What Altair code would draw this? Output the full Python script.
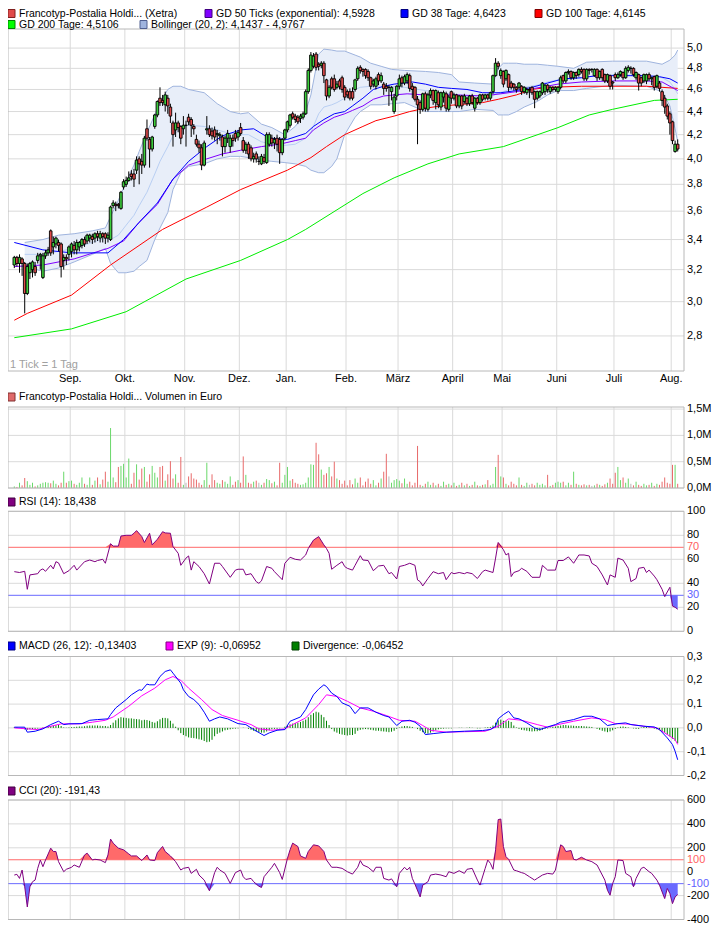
import altair as alt
import pandas as pd
import numpy as np

# ---------------- data ----------------
MONTH_NAMES = ["Sep.", "Okt.", "Nov.", "Dez.", "Jan.", "Feb.", "März", "April", "Mai", "Juni", "Juli", "Aug."]
MONTH_FIRST_DAY = [22, 43, 66, 87, 105, 128, 148, 169, 188, 209, 231, 253]

OPEN = [3.23,3.28,3.24,3.27,3.24,3.05,3.18,3.20,3.22,3.26, 3.29,3.15,3.29,3.31,3.46,3.35,3.37,3.38,3.37,3.26,
        3.28,3.30,3.32,3.36,3.33,3.35,3.36,3.40,3.39,3.41, 3.42,3.41,3.44,3.41,3.44,3.44,3.41,3.40,3.64,3.65,
        3.65,3.62,3.78,3.80,3.83,3.88,3.88,3.91,4.00,3.98, 3.95,4.25,4.16,4.08,4.27,4.37,4.52,4.50,4.46,4.52,
        4.44,4.30,4.24,4.30,4.27,4.25,4.28,4.35,4.33,4.27, 4.16,4.12,4.09,3.95,4.24,4.25,4.23,4.24,4.20,4.19,
        4.18,4.10,4.17,4.10,4.17,4.21,4.18,4.26,4.15,4.07, 4.12,4.09,4.00,4.04,3.98,3.96,4.01,3.97,4.12,4.17,
        4.13,4.17,4.16,4.05,4.17,4.24,4.28,4.38,4.36,4.35, 4.34,4.35,4.38,4.58,4.78,4.82,4.94,4.84,4.83,4.85,
        4.69,4.54,4.70,4.70,4.62,4.68,4.71,4.62,4.58,4.58, 4.58,4.60,4.70,4.81,4.79,4.79,4.77,4.71,4.65,4.63,
        4.74,4.68,4.65,4.63,4.62,4.58,4.40,4.54,4.63,4.71, 4.66,4.68,4.73,4.63,4.62,4.51,4.48,4.42,4.56,4.42,
        4.55,4.59,4.48,4.57,4.44,4.53,4.56,4.42,4.58,4.52, 4.55,4.45,4.54,4.49,4.52,4.47,4.54,4.43,4.52,4.48,
        4.55,4.52,4.55,4.52,4.58,4.73,4.85,4.73,4.77,4.70, 4.74,4.66,4.65,4.62,4.62,4.63,4.58,4.57,4.60,4.62,
        4.58,4.52,4.54,4.57,4.58,4.64,4.58,4.62,4.60,4.58, 4.62,4.73,4.68,4.76,4.77,4.71,4.76,4.74,4.79,4.79,
        4.70,4.79,4.79,4.73,4.79,4.71,4.79,4.74,4.68,4.73, 4.67,4.74,4.71,4.74,4.76,4.71,4.78,4.80,4.80,4.71,
        4.74,4.71,4.68,4.68,4.74,4.70,4.72,4.63,4.66,4.58, 4.52,4.45,4.38,4.31,4.06,4.12]
CLOSE = [3.28,3.24,3.28,3.24,3.05,3.22,3.24,3.25,3.18,3.29, 3.30,3.29,3.31,3.33,3.31,3.38,3.41,3.36,3.22,3.28,
         3.27,3.35,3.37,3.33,3.38,3.38,3.40,3.37,3.43,3.43, 3.40,3.44,3.42,3.44,3.42,3.41,3.43,3.63,3.66,3.64,
         3.64,3.74,3.82,3.83,3.85,3.86,3.84,3.99,3.96,3.95, 4.17,4.17,4.08,4.18,4.37,4.49,4.48,4.48,4.55,4.45,
         4.36,4.20,4.30,4.26,4.17,4.28,4.28,4.31,4.28,4.25, 4.12,4.09,3.95,4.13,4.25,4.20,4.19,4.18,4.21,4.20,
         4.10,4.17,4.21,4.17,4.15,4.17,4.22,4.21,4.07,4.12, 4.04,4.00,4.02,4.00,3.98,4.02,3.98,4.20,4.20,4.13,
         4.16,4.12,4.05,4.16,4.24,4.31,4.37,4.35,4.33,4.31, 4.36,4.38,4.58,4.78,4.93,4.92,4.81,4.82,4.85,4.73,
         4.54,4.62,4.62,4.60,4.65,4.63,4.60,4.53,4.55,4.52, 4.52,4.69,4.80,4.78,4.77,4.73,4.71,4.63,4.68,4.70,
         4.68,4.73,4.61,4.61,4.62,4.62,4.53,4.63,4.70,4.66, 4.72,4.74,4.61,4.60,4.51,4.46,4.42,4.56,4.43,4.55,
         4.59,4.50,4.59,4.46,4.57,4.57,4.43,4.53,4.52,4.55, 4.45,4.54,4.45,4.54,4.47,4.54,4.48,4.52,4.48,4.55,
         4.51,4.55,4.52,4.57,4.73,4.85,4.82,4.78,4.65,4.78, 4.62,4.62,4.62,4.60,4.66,4.58,4.62,4.60,4.60,4.57,
         4.51,4.58,4.58,4.66,4.64,4.60,4.62,4.60,4.62,4.62, 4.71,4.68,4.76,4.77,4.71,4.76,4.73,4.79,4.77,4.70,
         4.79,4.78,4.79,4.79,4.71,4.77,4.71,4.68,4.74,4.63, 4.66,4.71,4.74,4.77,4.71,4.80,4.81,4.80,4.74,4.76,
         4.66,4.66,4.74,4.74,4.70,4.71,4.62,4.73,4.61,4.50, 4.44,4.36,4.30,4.15,4.12,4.08]
HIGH = [3.29,3.29,3.30,3.28,3.25,3.24,3.25,3.26,3.25,3.31, 3.31,3.31,3.33,3.35,3.47,3.42,3.42,3.40,3.38,3.30,
        3.30,3.36,3.38,3.39,3.40,3.39,3.41,3.42,3.44,3.44, 3.44,3.45,3.46,3.46,3.45,3.45,3.45,3.64,3.68,3.67,
        3.66,3.75,3.84,3.86,3.90,3.91,3.92,4.02,4.02,4.04, 4.19,4.33,4.18,4.19,4.38,4.50,4.62,4.55,4.58,4.55,
        4.47,4.32,4.39,4.32,4.28,4.36,4.32,4.38,4.35,4.29, 4.20,4.15,4.12,4.15,4.36,4.28,4.26,4.27,4.24,4.22,
        4.20,4.19,4.24,4.20,4.20,4.24,4.24,4.30,4.18,4.14, 4.14,4.11,4.05,4.06,4.02,4.04,4.04,4.22,4.22,4.20,
        4.18,4.20,4.18,4.17,4.25,4.32,4.38,4.40,4.38,4.37, 4.38,4.40,4.60,4.80,4.96,4.95,4.96,4.86,4.87,4.87,
        4.70,4.64,4.72,4.74,4.68,4.70,4.73,4.64,4.60,4.61, 4.62,4.70,4.82,4.83,4.80,4.80,4.79,4.72,4.70,4.72,
        4.76,4.76,4.67,4.66,4.64,4.63,4.56,4.64,4.74,4.73, 4.74,4.76,4.75,4.66,4.63,4.54,4.50,4.57,4.58,4.57,
        4.61,4.60,4.60,4.59,4.58,4.59,4.58,4.55,4.59,4.57, 4.56,4.55,4.55,4.56,4.53,4.55,4.56,4.53,4.53,4.56,
        4.56,4.56,4.56,4.58,4.74,4.90,4.87,4.80,4.78,4.79, 4.75,4.68,4.66,4.63,4.67,4.64,4.63,4.62,4.62,4.63,
        4.59,4.59,4.59,4.67,4.65,4.65,4.63,4.63,4.63,4.63, 4.73,4.74,4.77,4.79,4.78,4.77,4.77,4.80,4.81,4.80,
        4.80,4.80,4.80,4.80,4.80,4.78,4.80,4.75,4.75,4.74, 4.68,4.76,4.76,4.78,4.77,4.82,4.83,4.82,4.81,4.77,
        4.75,4.72,4.75,4.75,4.76,4.72,4.73,4.74,4.68,4.60, 4.55,4.47,4.40,4.32,4.15,4.16]
LOW = [3.21,3.22,3.18,3.16,2.93,3.04,3.14,3.15,3.16,3.24, 3.20,3.14,3.27,3.29,3.29,3.30,3.34,3.32,3.15,3.20,
       3.23,3.26,3.28,3.30,3.30,3.32,3.34,3.35,3.37,3.38, 3.37,3.38,3.39,3.38,3.38,3.37,3.38,3.39,3.62,3.60,
       3.62,3.61,3.76,3.78,3.82,3.83,3.78,3.88,3.80,3.88, 3.93,4.15,3.93,4.06,4.25,4.35,4.45,4.45,4.40,4.38,
       4.30,4.10,4.18,4.22,4.12,4.20,4.10,4.28,4.18,4.20, 4.10,4.05,3.91,3.94,4.20,4.18,4.16,4.15,4.12,4.15,
       4.02,4.05,4.13,4.05,4.10,4.14,4.15,4.19,4.05,4.04, 4.00,3.98,3.97,3.97,3.95,3.95,3.96,3.96,4.10,4.10,
       4.08,4.06,3.96,4.03,4.15,4.22,4.26,4.33,4.30,4.29, 4.30,4.33,4.37,4.56,4.76,4.80,4.78,4.78,4.80,4.66,
       4.50,4.52,4.60,4.58,4.60,4.60,4.57,4.50,4.52,4.50, 4.50,4.58,4.68,4.75,4.72,4.70,4.68,4.60,4.62,4.60,
       4.64,4.66,4.55,4.58,4.45,4.50,4.38,4.50,4.60,4.62, 4.64,4.65,4.58,4.52,4.49,4.12,4.38,4.40,4.40,4.40,
       4.52,4.46,4.42,4.43,4.41,4.48,4.40,4.40,4.47,4.50, 4.43,4.43,4.42,4.47,4.45,4.45,4.46,4.40,4.46,4.46,
       4.49,4.50,4.50,4.50,4.56,4.72,4.79,4.70,4.62,4.68, 4.58,4.60,4.59,4.57,4.60,4.55,4.56,4.55,4.52,4.55,
       4.43,4.50,4.52,4.55,4.55,4.57,4.56,4.58,4.58,4.56, 4.60,4.66,4.66,4.74,4.69,4.69,4.70,4.72,4.75,4.68,
       4.68,4.74,4.76,4.72,4.68,4.69,4.68,4.66,4.66,4.60, 4.60,4.68,4.70,4.72,4.69,4.70,4.76,4.75,4.72,4.69,
       4.59,4.63,4.66,4.65,4.68,4.64,4.59,4.61,4.58,4.45, 4.38,4.33,4.20,4.12,4.05,4.06]

VOLUME_M = [0.03,0.02,0.10,0.05,0.19,0.13,0.06,0.10,0.03,0.05, 0.08,0.10,0.11,0.10,0.09,0.14,0.08,0.05,0.10,0.31,
            0.10,0.13,0.14,0.08,0.06,0.10,0.20,0.08,0.06,0.20, 0.06,0.14,0.20,0.07,0.16,0.31,0.12,1.14,0.20,0.11,
            0.40,0.42,0.46,0.20,0.56,0.08,0.29,0.45,0.16,0.37, 0.40,0.12,0.26,0.42,0.29,0.20,0.40,0.42,0.14,0.26,
            0.51,0.18,0.26,0.10,0.59,0.06,0.10,0.22,0.28,0.18, 0.16,0.10,0.06,0.15,0.48,0.06,0.26,0.15,0.10,0.08,
            0.15,0.12,0.08,0.22,0.06,0.12,0.15,0.10,0.60,0.25, 0.10,0.08,0.12,0.14,0.10,0.06,0.10,0.17,0.15,0.09,
            0.12,0.05,0.48,0.10,0.25,0.40,0.14,0.17,0.10,0.08, 0.06,0.07,0.10,0.20,0.45,0.44,0.86,0.64,0.35,0.25,
            0.28,0.40,0.22,0.50,0.18,0.15,0.08,0.14,0.05,0.15, 0.07,0.18,0.10,0.20,0.05,0.12,0.18,0.08,0.15,0.05,
            0.10,0.18,0.31,0.65,0.22,0.10,0.15,0.17,0.14,0.09, 0.18,0.08,0.12,0.05,0.10,0.80,0.06,0.04,0.08,0.12,
            0.06,0.10,0.05,0.08,0.04,0.12,0.06,0.08,0.05,0.10, 0.04,0.06,0.10,0.05,0.08,0.04,0.06,0.12,0.05,0.04,
            0.06,0.07,0.15,0.05,0.08,0.40,0.63,0.22,0.20,0.08, 0.05,0.12,0.08,0.05,0.20,0.06,0.04,0.10,0.06,0.08,
            0.05,0.10,0.06,0.08,0.05,0.25,0.04,0.06,0.10,0.12, 0.10,0.12,0.05,0.10,0.06,0.31,0.08,0.06,0.05,0.07,
            0.05,0.06,0.04,0.05,0.08,0.06,0.04,0.07,0.10,0.18, 0.08,0.29,0.40,0.15,0.20,0.10,0.18,0.08,0.05,0.12,
            0.06,0.04,0.08,0.05,0.06,0.10,0.04,0.08,0.06,0.12, 0.20,0.10,0.08,0.44,0.44,0.08]

DIVERGENCE = [0.003,0.002,0.0,-0.004,-0.006,-0.008,-0.006,-0.005,-0.004,-0.003,
              0.0,0.002,0.004,0.006,0.008,0.01,0.011,0.012,0.008,0.002,
              0.001,0.002,0.003,0.004,0.005,0.006,0.006,0.007,0.009,0.01,
              0.01,0.01,0.01,0.009,0.008,0.008,0.006,0.012,0.022,0.032,
              0.04,0.045,0.043,0.042,0.04,0.04,0.038,0.037,0.036,0.032,
              0.034,0.033,0.03,0.025,0.022,0.028,0.036,0.042,0.042,0.04,
              0.03,0.018,0.005,-0.01,-0.022,-0.03,-0.035,-0.04,-0.042,-0.043,
              -0.045,-0.048,-0.05,-0.055,-0.06,-0.058,-0.05,-0.035,-0.025,-0.02,
              -0.015,-0.01,-0.008,-0.006,-0.004,-0.003,-0.002,0.0,0.001,0.0,
              -0.004,-0.008,-0.012,-0.015,-0.018,-0.02,-0.02,-0.015,-0.01,-0.006,
              -0.004,-0.004,-0.002,0.0,0.005,0.012,0.015,0.018,0.02,0.022,
              0.025,0.03,0.035,0.045,0.055,0.062,0.068,0.065,0.055,0.045,
              0.03,0.012,-0.005,-0.015,-0.02,-0.025,-0.028,-0.03,-0.032,-0.03,
              -0.03,-0.025,-0.012,-0.008,-0.006,-0.005,-0.006,-0.008,-0.01,-0.012,
              -0.012,-0.014,-0.015,-0.016,-0.018,-0.016,-0.012,-0.004,0.002,0.006,
              0.008,0.008,0.006,0.004,0.0,-0.005,-0.012,-0.018,-0.022,-0.024,
              -0.02,-0.015,-0.01,-0.006,-0.004,-0.003,-0.002,-0.002,-0.002,0.0,
              0.0,0.001,0.001,0.0,0.001,0.002,0.001,0.0,-0.002,-0.002,
              0.0,0.002,0.003,0.004,0.01,0.022,0.032,0.035,0.03,0.028,
              0.03,0.025,0.01,0.002,-0.004,-0.008,-0.01,-0.012,-0.014,-0.015,
              -0.014,-0.014,-0.012,-0.008,-0.004,-0.002,0.002,0.005,0.006,0.008,
              0.01,0.012,0.012,0.01,0.01,0.009,0.008,0.008,0.008,0.007,
              0.006,0.005,0.004,0.0,-0.004,-0.008,-0.012,-0.015,-0.018,-0.015,
              -0.01,-0.004,0.002,0.005,0.006,0.004,0.002,0.0,-0.002,-0.004,
              -0.004,0.002,0.004,0.004,0.003,0.0,-0.003,-0.006,-0.01,-0.014,
              -0.02,-0.028,-0.036,-0.045,-0.055,-0.0645]

GD200_DAY = [0,22,43,66,87,105,112,134,146,159,171,188,209,221,230,246,255]
GD200_VAL = [2.79,2.84,2.94,3.14,3.26,3.40,3.47,3.73,3.85,3.96,4.04,4.10,4.26,4.37,4.42,4.50,4.51]
GD100_DAY = [0,5,22,37,57,74,87,105,114,120,127,134,139,146,152,158,164,170,180,186,193,199,205,218,243,249,255]
GD100_VAL = [2.89,2.93,3.04,3.23,3.47,3.63,3.76,3.91,4.01,4.10,4.20,4.27,4.32,4.36,4.40,4.43,4.45,4.46,4.48,4.51,4.55,4.60,4.62,4.63,4.63,4.62,4.61]
GD38_DAY = [0,11,22,36,42,48,55,61,67,74,80,87,92,98,105,112,115,119,123,127,130,134,138,142,146,153,158,163,168,174,180,187,193,199,205,211,218,224,237,243,248,252,255]
GD38_VAL = [3.38,3.33,3.31,3.31,3.40,3.52,3.66,3.84,3.98,4.10,4.19,4.24,4.25,4.17,4.16,4.21,4.27,4.33,4.38,4.40,4.45,4.52,4.60,4.63,4.65,4.67,4.65,4.62,4.61,4.60,4.57,4.57,4.59,4.62,4.66,4.70,4.71,4.73,4.73,4.73,4.72,4.70,4.66]
GD50_DAY = [0,11,23,36,42,48,55,61,67,74,80,87,95,102,108,112,115,119,123,127,130,134,138,142,146,151,158,170,180,187,193,200,209,218,230,243,249,255]
GD50_VAL = [3.22,3.23,3.27,3.34,3.39,3.52,3.65,3.84,3.95,4.00,4.04,4.07,4.10,4.12,4.15,4.17,4.24,4.30,4.35,4.38,4.41,4.45,4.51,4.54,4.55,4.56,4.55,4.55,4.54,4.56,4.58,4.61,4.65,4.67,4.68,4.68,4.67,4.59]

BOLL_DAY = [4,11,17,23,30,35,37,40,43,46,48,51,54,56,59,61,64,67,73,78,83,87,90,95,99,104,108,112,114,117,119,122,124,127,131,133,137,141,145,150,158,163,168,171,177,184,186,188,190,193,196,201,205,209,215,220,230,243,249,252,254,255]
BOLL_UP = [3.38,3.40,3.43,3.44,3.46,3.48,3.56,3.68,3.82,3.95,4.06,4.22,4.37,4.48,4.60,4.63,4.63,4.60,4.57,4.47,4.40,4.38,4.39,4.29,4.26,4.20,4.27,4.40,4.55,4.94,4.99,4.98,4.97,4.97,4.93,4.91,4.85,4.82,4.79,4.78,4.77,4.76,4.74,4.67,4.66,4.65,4.80,4.85,4.85,4.85,4.84,4.84,4.83,4.82,4.80,4.86,4.87,4.87,4.84,4.88,4.93,4.98]
BOLL_LO = [3.22,3.19,3.21,3.25,3.30,3.34,3.24,3.18,3.18,3.19,3.22,3.26,3.40,3.48,3.59,3.76,3.89,3.94,3.96,4.00,4.02,4.02,4.01,3.99,3.98,3.97,3.96,3.94,3.91,3.89,3.89,3.94,4.00,4.20,4.35,4.40,4.46,4.46,4.47,4.48,4.40,4.40,4.40,4.40,4.42,4.41,4.37,4.37,4.37,4.40,4.44,4.49,4.55,4.59,4.59,4.61,4.64,4.63,4.58,4.45,4.25,4.14]
BOLL_MID = [3.30,3.30,3.32,3.34,3.38,3.41,3.40,3.43,3.50,3.57,3.64,3.74,3.88,3.98,4.10,4.19,4.26,4.28,4.27,4.24,4.21,4.20,4.20,4.14,4.12,4.11,4.12,4.17,4.22,4.38,4.44,4.46,4.48,4.52,4.60,4.62,4.63,4.63,4.63,4.62,4.59,4.57,4.56,4.54,4.54,4.54,4.57,4.58,4.60,4.61,4.62,4.64,4.67,4.69,4.70,4.72,4.74,4.73,4.71,4.67,4.60,4.56]

RSI_DAY = [0,2,4,5,6,9,10,11,12,14,15,16,17,19,21,23,24,27,29,31,32,34,35,37,38,40,41,43,45,46,47,49,50,52,53,55,57,58,60,61,63,64,66,67,68,69,71,73,75,77,79,80,83,85,86,88,89,91,93,94,95,97,99,100,103,104,106,108,110,112,113,115,117,119,120,121,122,124,126,127,128,130,131,133,134,136,138,140,142,144,145,147,148,150,152,154,155,156,157,159,161,163,165,166,168,169,171,173,174,176,178,180,181,184,185,186,188,189,190,191,192,194,195,197,199,202,203,205,208,209,211,213,215,217,219,221,222,224,226,228,229,231,232,234,236,237,239,240,242,243,244,246,247,249,250,252,253,254,255]
RSI_VAL = [49.7,49,50,35,47,48,51,52,50,55,52,58,57,48,50.5,55,51,58,59.4,58,59,60,56.7,73,71,71,79.4,80,80,81.7,83.9,79,74,81.7,72,76.7,83,82,81.7,70.6,65,55,61,62.8,51,58,54,48,39.4,56.7,56.7,54,45,51,51.7,51.7,47,48,41.4,40,42,54,52.5,49.7,43,56.7,61.7,60,59.4,63.6,69,76,78.9,72,69,65,51.7,55,58,54,52.5,51,55,63,59.4,59,50.5,54.4,55,48,49,43.6,54,55,56.7,55,42.8,41.4,37.8,44,49.7,48,49,43,49,48,49,48,49,48,44,49.7,51,49,61,74,68,63.6,65,45.6,49,50.5,52.5,50,45,45,55,51,51,59,59,62,56.7,63.6,63.6,62.8,56.7,54,47,38.6,47,45,61,59.4,52.5,41.4,44,52.5,53.3,49,51,46,43,35,29,36.7,21,20,18.4]

MACD_DAY = [0,4,5,8,11,14,17,19,21,26,29,32,36,37,39,43,45,48,49,51,52,54,56,58,60,61,64,65,67,69,71,73,75,77,79,82,84,86,89,92,96,98,101,104,106,110,112,115,117,119,120,122,124,126,129,131,133,136,139,142,144,147,149,152,154,156,158,161,166,173,180,183,185,186,188,190,192,194,197,200,202,205,208,210,215,219,222,225,228,232,235,237,242,246,248,251,253,254,255]
MACD_VAL = [0.003,0.003,-0.018,-0.014,-0.004,0.014,0.028,0.014,0.017,0.018,0.032,0.035,0.038,0.056,0.084,0.119,0.139,0.16,0.158,0.184,0.181,0.181,0.216,0.237,0.244,0.23,0.188,0.16,0.132,0.119,0.098,0.066,0.028,0.038,0.046,0.038,0.028,0.018,0.014,-0.007,-0.032,-0.021,-0.01,-0.007,0.028,0.046,0.077,0.139,0.163,0.181,0.174,0.146,0.132,0.105,0.091,0.06,0.084,0.084,0.066,0.052,0.046,0.01,0.028,0.032,0.024,0.007,-0.028,-0.024,-0.018,-0.014,-0.011,-0.007,0.007,0.038,0.056,0.07,0.042,0.038,0.021,0.0,-0.007,0.004,0.014,0.024,0.035,0.049,0.049,0.038,0.01,0.018,0.021,0.014,0.007,0.004,-0.007,-0.042,-0.07,-0.098,-0.134]
SIGNAL_DAY = [0,5,9,12,18,25,30,35,38,44,49,54,58,61,64,67,72,76,80,86,91,94,99,104,107,112,117,120,124,128,133,138,143,148,154,157,160,166,173,181,186,190,195,201,205,209,215,222,227,231,236,242,247,250,254,255]
SIGNAL_VAL = [0.0,-0.004,-0.007,0.002,0.017,0.017,0.024,0.032,0.046,0.091,0.135,0.167,0.202,0.216,0.2,0.167,0.119,0.077,0.052,0.032,0.014,-0.004,-0.01,-0.004,0.014,0.042,0.098,0.139,0.132,0.112,0.084,0.07,0.052,0.032,0.028,0.01,-0.01,-0.018,-0.016,-0.014,0.007,0.038,0.032,0.014,0.003,0.014,0.028,0.042,0.035,0.018,0.016,0.007,0.0,-0.021,-0.049,-0.0695]

CCI_DAY = [0,1,2,3,4,5,6,7,8,9,10,11,12,14,15,16,17,19,20,22,23,25,27,28,30,31,33,35,36,37,38,40,42,44,45,47,49,51,52,54,55,57,58,60,62,64,65,67,68,70,71,73,75,77,78,79,81,83,85,87,88,89,91,92,94,95,96,99,100,102,103,105,106,107,109,110,112,113,115,117,119,120,122,124,126,128,130,132,133,134,136,138,139,141,142,144,145,147,148,150,151,152,153,154,156,157,159,160,162,164,166,167,169,171,173,174,176,178,179,181,182,183,184,185,186,187,188,189,190,192,193,195,196,198,200,201,203,205,207,208,210,211,212,214,215,216,218,220,222,224,225,227,228,229,230,231,232,234,235,237,238,239,241,242,244,245,247,248,250,251,252,253,254,255]
CCI_VAL = [-28,-22,-56,14,-126,-295,-126,-84,-70,28,98,42,98,197,169,169,84,0,20,37,56,37,140,155,98,104,98,76,140,273,239,197,183,149,132,132,93,140,98,93,160,211,169,132,84,14,28,37,-14,20,-28,-70,-160,-8,37,14,-14,-98,-8,14,-42,-65,-56,-84,-121,-132,-42,37,70,-8,-65,112,183,239,211,132,112,169,225,216,169,98,37,37,28,0,-20,37,93,56,37,0,37,37,-56,-70,-60,-126,-14,37,14,37,-56,-104,-211,-112,-84,-28,-20,-28,-42,0,-14,8,-14,20,28,-70,-112,28,98,70,20,183,436,441,211,126,104,14,8,-8,-14,-42,-70,-56,-28,-14,-20,14,225,211,169,177,104,98,121,98,84,56,14,-70,-155,-197,-98,-42,98,93,-14,-42,-126,-56,28,37,0,-14,-70,-112,-225,-140,-183,-267,-211,-191]

PRICE_TICKS = [2.8, 3.0, 3.2, 3.4, 3.6, 3.8, 4.0, 4.2, 4.4, 4.6, 4.8, 5.0]
PRICE_LABELS = ["2,8", "3,0", "3,2", "3,4", "3,6", "3,8", "4,0", "4,2", "4,4", "4,6", "4,8", "5,0"]
VOL_TICKS = [0.0, 0.5, 1.0, 1.5]
VOL_LABELS = ["0,0M", "0,5M", "1,0M", "1,5M"]
RSI_TICKS = [0, 20, 40, 60, 80, 100]
RSI_LABELS = ["0", "20", "40", "60", "80", "100"]
MACD_TICKS = [-0.2, -0.1, 0.0, 0.1, 0.2, 0.3]
MACD_LABELS = ["-0,2", "-0,1", "0,0", "0,1", "0,2", "0,3"]
CCI_TICKS = [-400, -200, 0, 200, 400, 600]
CCI_LABELS = ["-400", "-200", "0", "200", "400", "600"]

# ---------------- styling / geometry ----------------
FONT = "Liberation Sans"
GRID = "#dadada"
FRAME = "#b8b8b8"
PLOT_W = 676
LABEL_X = 679
HEAD_FS = 10.5

PANELS = {
    "price": dict(domain=[2.609, 5.196], range=[363, 21], type="log"),
    "vol": dict(domain=[0, 1.54], range=[480, 399], type="linear"),
    "rsi": dict(domain=[0, 100], range=[623.3, 503.3], type="linear"),
    "macd": dict(domain=[-0.2, 0.3], range=[767.5, 648.5], type="linear"),
    "cci": dict(domain=[-400, 600], range=[911.5, 792], type="linear"),
}

XSCALE = alt.Scale(domain=[-0.5, 255.5], range=[0, PLOT_W], nice=False, zero=False)


def X(field):
    return alt.X(f"{field}:Q", scale=XSCALE, axis=None)


def Y(field, panel):
    p = PANELS[panel]
    if p["type"] == "log":
        sc = alt.Scale(type="log", domain=p["domain"], range=p["range"], nice=False)
    else:
        sc = alt.Scale(type="linear", domain=p["domain"], range=p["range"], nice=False, zero=False)
    return alt.Y(f"{field}:Q", scale=sc, axis=None)


ONE = pd.DataFrame({"a": [0]})
months = pd.DataFrame({"pos": [d - 0.5 for d in MONTH_FIRST_DAY], "name": MONTH_NAMES})


def hgrid(panel, vals, color=GRID):
    return alt.Chart(pd.DataFrame({"v": vals})).mark_rule(color=color, strokeWidth=1).encode(
        y=Y("v", panel), x=alt.value(0), x2=alt.value(PLOT_W))


def vgrid(panel):
    rng = PANELS[panel]["range"]
    return alt.Chart(months).mark_rule(color=GRID, strokeWidth=1).encode(
        x=X("pos"), y=alt.value(rng[1]), y2=alt.value(rng[0]))


def frame(panel):
    rng = PANELS[panel]["range"]
    return alt.Chart(ONE).mark_rect(fill="white", fillOpacity=0, stroke=FRAME, strokeWidth=1).encode(
        x=alt.value(0), x2=alt.value(PLOT_W), y=alt.value(rng[1]), y2=alt.value(rng[0]))


def ylabels(panel, vals, texts, color="#000000"):
    df = pd.DataFrame({"v": vals, "t": texts})
    return alt.Chart(df).mark_text(align="left", baseline="middle", font=FONT, fontSize=11, color=color).encode(
        y=Y("v", panel), x=alt.value(LABEL_X), text="t:N")


def line(days, vals, panel, color, width=1):
    df = pd.DataFrame({"i": days, "v": vals})
    return alt.Chart(df).mark_line(color=color, strokeWidth=width).encode(x=X("i"), y=Y("v", panel))


def legend_item(x, y, color, edge, text):
    sq = alt.Chart(ONE).mark_rect(color=color, stroke=edge, strokeWidth=1).encode(
        x=alt.value(x), x2=alt.value(x + 7), y=alt.value(y - 4), y2=alt.value(y + 4))
    tx = alt.Chart(pd.DataFrame({"t": [text]})).mark_text(
        align="left", baseline="middle", font=FONT, fontSize=HEAD_FS, color="#000000").encode(
        x=alt.value(x + 11), y=alt.value(y), text="t:N")
    return [sq, tx]


cdf = pd.DataFrame({"i": list(range(256)), "o": OPEN, "c": CLOSE, "h": HIGH, "l": LOW,
                    "vol": VOLUME_M, "div": DIVERGENCE})
cdf["dir"] = np.where(cdf["c"] > cdf["o"], "up", np.where(cdf["c"] < cdf["o"], "down", "flat"))

boll = pd.DataFrame({"i": BOLL_DAY, "up": BOLL_UP, "lo": BOLL_LO, "mid": BOLL_MID})

layers = []

# ---------- price panel ----------
layers += [hgrid("price", PRICE_TICKS), vgrid("price")]
layers.append(alt.Chart(boll).mark_area(color="#e8eef9").encode(x=X("i"), y=Y("up", "price"), y2=alt.Y2("lo")))
layers.append(line(BOLL_DAY, BOLL_UP, "price", "#9fb4de"))
layers.append(line(BOLL_DAY, BOLL_LO, "price", "#9fb4de"))
layers.append(line(BOLL_DAY, BOLL_MID, "price", "#b9cff3"))
layers.append(line(GD200_DAY, GD200_VAL, "price", "#00ee00"))
layers.append(line(GD100_DAY, GD100_VAL, "price", "#ff0000"))
layers.append(line(GD50_DAY, GD50_VAL, "price", "#8000ff"))
layers.append(line(GD38_DAY, GD38_VAL, "price", "#0000ff"))
layers.append(alt.Chart(cdf).mark_rule(color="#000000", strokeWidth=1).encode(
    x=X("i"), y=Y("l", "price"), y2=alt.Y2("h")))
layers.append(alt.Chart(cdf).mark_bar(size=2.6, stroke="#000000", strokeWidth=0.9).encode(
    x=X("i"), y=Y("o", "price"), y2=alt.Y2("c"),
    color=alt.Color("dir:N", scale=alt.Scale(domain=["up", "down", "flat"],
                                               range=["#3ccf3c", "#e04a4a", "#000000"]), legend=None)))
layers.append(frame("price"))
layers.append(ylabels("price", PRICE_TICKS, PRICE_LABELS))
layers.append(alt.Chart(months).mark_text(align="center", baseline="middle", font=FONT, fontSize=11,
                                          color="#000000").encode(x=X("pos"), y=alt.value(371), text="name:N"))
layers.append(alt.Chart(pd.DataFrame({"t": ["1 Tick = 1 Tag"]})).mark_text(
    align="left", baseline="middle", font=FONT, fontSize=11, color="#a0a0a0").encode(
    x=alt.value(2), y=alt.value(357), text="t:N"))

# ---------- volume panel ----------
layers += [hgrid("vol", VOL_TICKS), vgrid("vol")]
layers.append(alt.Chart(cdf).transform_calculate(zero="0").mark_rule(strokeWidth=1).encode(
    x=X("i"), y=Y("vol", "vol"), y2=alt.Y2("zero"),
    color=alt.Color("dir:N", scale=alt.Scale(domain=["up", "down", "flat"],
                                               range=["#6ad86a", "#e86a6a", "#b8b8b8"]), legend=None)))
layers.append(frame("vol"))
layers.append(ylabels("vol", VOL_TICKS, VOL_LABELS))

# ---------- RSI panel ----------
rsi = pd.DataFrame({"i": RSI_DAY, "v": RSI_VAL})
layers += [hgrid("rsi", RSI_TICKS), vgrid("rsi")]
layers.append(alt.Chart(rsi).transform_calculate(top="max(datum.v, 70)", base="70").mark_area(
    color="#ff6a6a").encode(x=X("i"), y=Y("top", "rsi"), y2=alt.Y2("base")))
layers.append(alt.Chart(rsi).transform_calculate(bot="min(datum.v, 30)", base="30").mark_area(
    color="#6a6aff").encode(x=X("i"), y=Y("bot", "rsi"), y2=alt.Y2("base")))
layers.append(hgrid("rsi", [70], "#ff6a6a"))
layers.append(hgrid("rsi", [30], "#6a6aff"))
layers.append(line(RSI_DAY, RSI_VAL, "rsi", "#800080"))
layers.append(frame("rsi"))
layers.append(ylabels("rsi", RSI_TICKS, RSI_LABELS))
layers.append(ylabels("rsi", [70], ["70"], "#ff6060"))
layers.append(ylabels("rsi", [30], ["30"], "#6060ff"))

# ---------- MACD panel ----------
layers += [hgrid("macd", MACD_TICKS), vgrid("macd")]
layers.append(alt.Chart(cdf).transform_calculate(zero="0").mark_rule(color="#008000", strokeWidth=1).encode(
    x=X("i"), y=Y("div", "macd"), y2=alt.Y2("zero")))
layers.append(line(SIGNAL_DAY, SIGNAL_VAL, "macd", "#ff00ff"))
layers.append(line(MACD_DAY, MACD_VAL, "macd", "#0000ff"))
layers.append(frame("macd"))
layers.append(ylabels("macd", MACD_TICKS, MACD_LABELS))

# ---------- CCI panel ----------
cci = pd.DataFrame({"i": CCI_DAY, "v": CCI_VAL})
layers += [hgrid("cci", CCI_TICKS), vgrid("cci")]
layers.append(alt.Chart(cci).transform_calculate(top="max(datum.v, 100)", base="100").mark_area(
    color="#ff6a6a").encode(x=X("i"), y=Y("top", "cci"), y2=alt.Y2("base")))
layers.append(alt.Chart(cci).transform_calculate(bot="min(datum.v, -100)", base="-100").mark_area(
    color="#6a6aff").encode(x=X("i"), y=Y("bot", "cci"), y2=alt.Y2("base")))
layers.append(hgrid("cci", [100], "#ff6a6a"))
layers.append(hgrid("cci", [-100], "#6a6aff"))
layers.append(line(CCI_DAY, CCI_VAL, "cci", "#800080"))
layers.append(frame("cci"))
layers.append(ylabels("cci", CCI_TICKS, CCI_LABELS))
layers.append(ylabels("cci", [100], ["100"], "#ff6060"))
layers.append(ylabels("cci", [-100], ["-100"], "#6060ff"))

# ---------- legend headers ----------
layers += legend_item(0, 5.5, "#e04a4a", "#802020", "Francotyp-Postalia Holdi... (Xetra)")
layers += legend_item(197, 5.5, "#8000ff", "#400080", "GD 50 Ticks (exponential): 4,5928")
layers += legend_item(393, 5.5, "#0000ff", "#000080", "GD 38 Tage: 4,6423")
layers += legend_item(527, 5.5, "#ff0000", "#800000", "GD 100 Tage: 4,6145")
layers += legend_item(0, 16.5, "#00ff00", "#008000", "GD 200 Tage: 4,5106")
layers += legend_item(132, 16.5, "#9fb4de", "#506090", "Bollinger (20, 2): 4,1437 - 4,9767")
layers += legend_item(0, 389, "#e06a6a", "#803030", "Francotyp-Postalia Holdi... Volumen in Euro")
layers += legend_item(0, 494, "#800080", "#400040", "RSI (14): 18,438")
layers += legend_item(0, 638, "#0000ff", "#000080", "MACD (26, 12): -0,13403")
layers += legend_item(158, 638, "#ff00ff", "#800080", "EXP (9): -0,06952")
layers += legend_item(284, 638, "#008000", "#004000", "Divergence: -0,06452")
layers += legend_item(0, 783, "#800080", "#400040", "CCI (20): -191,43")

chart = alt.layer(*layers).properties(
    width=710, height=920, padding=0, autosize=alt.AutoSizeParams(type="none")
).resolve_scale(y="independent", color="independent").configure_view(stroke=None)

chart.save("out.html", embed_options={"renderer": "svg", "actions": False})
